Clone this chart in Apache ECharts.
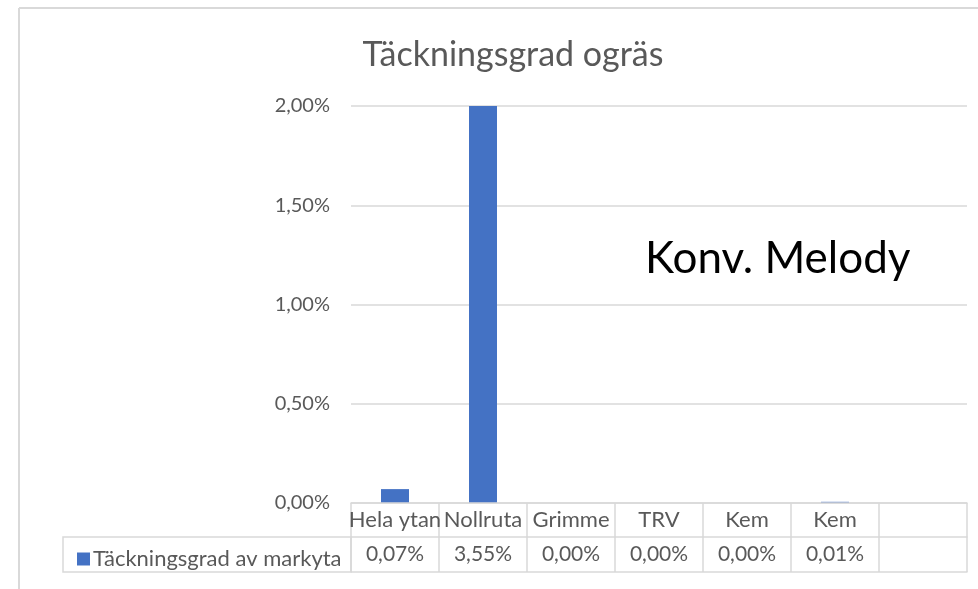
<!DOCTYPE html>
<html>
<head>
<meta charset="utf-8">
<script src="https://cdn.jsdelivr.net/npm/echarts@6/dist/echarts.min.js"></script>
<style>
    html, body { margin: 0; padding: 0; background: #fff; }
    #chart { width: 978px; height: 589px; }
</style>
</head>
<body>
<div id="chart"></div>
<script>
    // kategorier och värden (procent av markyta)
    var categories = ['Hela ytan', 'Nollruta', 'Grimme', 'TRV', 'Kem', 'Kem', '']
    var values = [0.07, 3.55, 0.00, 0.00, 0.00, 0.006, null]
    var yTicks = [0, 0.5, 1.0, 1.5, 2.0]
    var seriesName = 'Täckningsgrad av markyta'

    var font = 'Lato, "Open Sans", sans-serif'
    var lineColor = '#d9d9d9'
    var textColor = '#595959'

    function pct(v) {
        return v.toFixed(2).replace('.', ',') + '%'
    }

    var valueLabels = values.map(function (v) { return v == null ? '' : pct(v) })
    var blanks = categories.map(function () { return '' })

    var myChart = echarts.init(document.getElementById('chart'))

    var option = {
        animation: false,
        textStyle: { fontFamily: font },
        title: {
            text: 'Täckningsgrad ogräs',
            left: 508,
            textAlign: 'center',
            top: 33,
            textStyle: { color: textColor, fontSize: 34, fontWeight: 'normal', fontFamily: font }
        },
        legend: {
            data: [seriesName],
            left: 72,
            top: 543,
            icon: 'rect',
            itemWidth: 13,
            itemHeight: 13,
            itemGap: 4,
            textStyle: { color: textColor, fontSize: 22, fontFamily: font, padding: [0, 0, 0, -2] }
        },
        grid: { left: 351, right: 11, top: 106, bottom: 86 },
        xAxis: [{
            type: 'category',
            data: categories,
            position: 'bottom',
            z: 5,
            axisLine: { lineStyle: { color: lineColor, width: 1.5 } },
            axisTick: { show: true, length: 69, lineStyle: { color: lineColor, width: 1.5 } },
            axisLabel: { interval: 0, color: textColor, fontSize: 22, margin: 6 }
        }, {
            type: 'category',
            data: valueLabels,
            position: 'bottom',
            offset: 34,
            axisLine: { lineStyle: { color: lineColor, width: 1.5 } },
            axisTick: { show: false },
            axisLabel: { interval: 0, color: textColor, fontSize: 21, margin: 7 }
        }, {
            type: 'category',
            data: blanks,
            position: 'bottom',
            offset: 69,
            axisLine: { lineStyle: { color: lineColor, width: 1.5 } },
            axisTick: { show: false },
            axisLabel: { show: false }
        }],
        yAxis: {
            type: 'value',
            min: yTicks[0],
            max: yTicks[yTicks.length - 1],
            interval: yTicks[1] - yTicks[0],
            axisLine: { show: false },
            axisTick: { show: false },
            splitLine: { lineStyle: { color: lineColor, width: 1.5 } },
            axisLabel: {
                color: textColor,
                fontSize: 20,
                margin: 21,
                formatter: function (v) { return pct(v) }
            }
        },
        series: [{
            name: seriesName,
            type: 'bar',
            xAxisIndex: 0,
            barWidth: 28,
            clip: true,
            itemStyle: { color: '#4472c4' },
            data: values
        }],
        graphic: [
            // diagramram
            { type: 'line', shape: { x1: 19, y1: 8, x2: 978, y2: 8 }, style: { stroke: lineColor, lineWidth: 2 } },
            { type: 'line', shape: { x1: 19, y1: 8, x2: 19, y2: 589 }, style: { stroke: lineColor, lineWidth: 2 } },
            // förklaringscell i datatabellen
            { type: 'rect', shape: { x: 63, y: 537, width: 288, height: 35 }, style: { fill: 'none', stroke: lineColor, lineWidth: 1.5 } },
            {
                type: 'text', left: 645, top: 237,
                style: { text: 'Konv. Melody', fill: '#000', fontSize: 44, fontFamily: font }
            }
        ]
    }

    myChart.setOption(option)
</script>
</body>
</html>
